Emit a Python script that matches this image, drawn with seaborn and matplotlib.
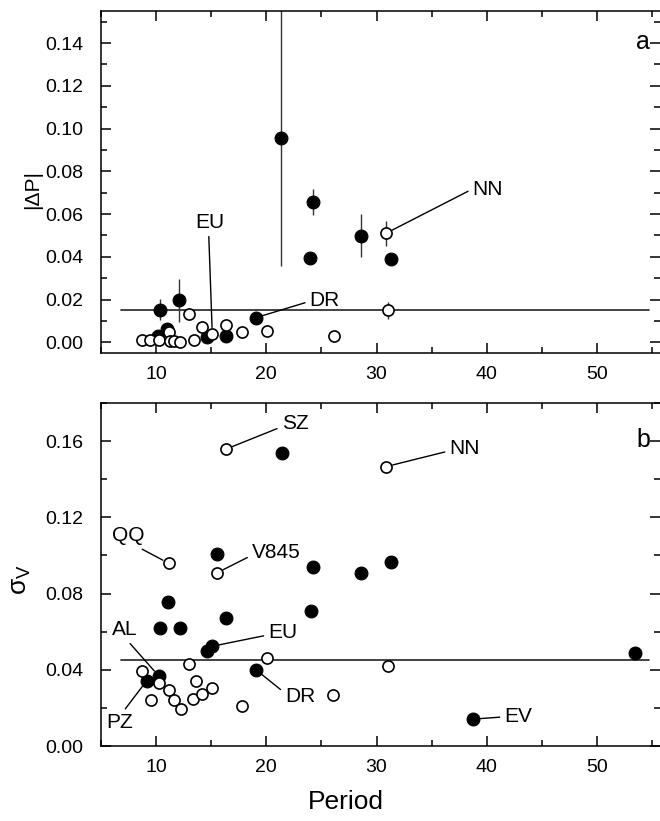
import numpy as np
import pandas as pd
import seaborn as sns
import matplotlib
matplotlib.use("Agg")
import matplotlib.pyplot as plt
from matplotlib.ticker import MultipleLocator

# ---------------- data ----------------
# panel a : |dP| vs period
a_fill_P = [10.2, 10.35, 10.96, 12.1, 14.6, 16.3, 19.04, 21.3, 23.97, 24.2, 28.6, 31.3]
a_fill_y = [0.003, 0.0153, 0.0064, 0.0196, 0.0025, 0.0028, 0.0115, 0.0958, 0.0395, 0.0656, 0.0498, 0.0392]
a_fill_e = [0, 0.005, 0, 0.010, 0, 0, 0, 0.060, 0.0025, 0.006, 0.010, 0]

a_open_P = [8.69, 9.45, 10.26, 11.2, 11.26, 11.6, 12.2, 12.98, 13.4, 14.2, 15.1, 16.3, 17.8, 20.04, 26.1, 30.86, 31.07]
a_open_y = [0.0009, 0.0013, 0.0013, 0.0048, 0.0005, 0.0005, 0.0001, 0.0134, 0.0013, 0.0071, 0.0037, 0.0079, 0.0048, 0.0051, 0.0028, 0.051, 0.0149]
a_open_e = [0, 0, 0, 0, 0, 0, 0, 0, 0, 0, 0, 0, 0, 0, 0, 0.0058, 0.004]

a_level = 0.015
# panel b : sigma_V vs period
b_fill_P = [9.14, 10.26, 10.35, 11.05, 12.17, 14.65, 15.05, 15.55, 16.3, 19.04, 21.4, 24.03, 24.2, 28.6, 31.3, 38.73, 53.46]
b_fill_y = [0.0342, 0.0366, 0.0619, 0.0758, 0.0619, 0.0498, 0.0523, 0.1007, 0.0673, 0.0401, 0.1536, 0.0708, 0.0941, 0.0908, 0.0967, 0.0141, 0.049]

b_open_P = [8.75, 9.51, 10.26, 11.17, 11.2, 11.65, 12.23, 12.99, 13.38, 13.62, 14.19, 15.1, 15.5, 16.3, 17.82, 20.04, 26.08, 30.86, 31.07]
b_open_y = [0.0394, 0.0241, 0.0331, 0.0958, 0.0293, 0.0241, 0.0192, 0.0432, 0.0249, 0.0342, 0.0272, 0.0302, 0.0908, 0.1557, 0.0211, 0.0462, 0.027, 0.1466, 0.042]

b_level = 0.045
line_span = [6.8, 54.7]

# labels: (name, set, index in set, text position, relpos of leader line)
a_labels = [("EU", "open", 10, (14.9, 0.0561), (0.45, 0.0)),
            ("DR", "fill", 6, (25.3, 0.0196), (0.0, 0.45)),
            ("NN", "open", 15, (40.1, 0.0713), (0.0, 0.55))]
b_labels = [("SZ", "open", 13, (22.6, 0.169), (0.0, 0.35)),
            ("NN", "open", 17, (38.0, 0.1559), (0.0, 0.4)),
            ("QQ", "open", 3, (7.48, 0.1103), (0.7, 0.0)),
            ("V845", "open", 12, (20.9, 0.1016), (0.0, 0.35)),
            ("EU", "fill", 6, (21.5, 0.0598), (0.0, 0.35)),
            ("AL", "fill", 1, (7.18, 0.061), (0.55, 0.0)),
            ("PZ", "fill", 0, (6.66, 0.0122), (0.6, 1.0)),
            ("DR", "fill", 9, (23.06, 0.0258), (0.0, 0.7)),
            ("EV", "fill", 15, (42.87, 0.0153), (0.0, 0.5))]

# ---------------- style ----------------
sns.set_theme(style="ticks")
plt.rcParams['font.family'] = ['Liberation Sans', 'DejaVu Sans']
plt.rcParams['axes.linewidth'] = 1.1
plt.rcParams['text.color'] = 'black'
plt.rcParams['axes.labelcolor'] = 'black'
plt.rcParams['xtick.color'] = 'black'
plt.rcParams['ytick.color'] = 'black'
plt.rcParams['axes.edgecolor'] = 'black'

W, H = 660, 821
fig = plt.figure(figsize=(W / 100, H / 100), dpi=100)
left = 101 / W
width = 1.0 - left
axA = fig.add_axes([left, (H - 353) / H, width, 342 / H])
axB = fig.add_axes([left, (H - 746) / H, width, 343 / H])

XMAX = 5 + 559 / 11.02


def draw(ax, fP, fy, oP, oy, fe=None, oe=None):
    if fe is not None:
        ax.errorbar(fP, fy, yerr=fe, fmt='none', ecolor='#333333', elinewidth=1.0, zorder=2)
    if oe is not None:
        ax.errorbar(oP, oy, yerr=oe, fmt='none', ecolor='#333333', elinewidth=1.0, zorder=2)
    dfF = pd.DataFrame({"P": fP, "v": fy})
    dfO = pd.DataFrame({"P": oP, "v": oy})
    sns.scatterplot(data=dfF, x="P", y="v", ax=ax, color='black', edgecolor='black',
                    s=85, linewidth=0.8, zorder=3, legend=False)
    sns.scatterplot(data=dfO, x="P", y="v", ax=ax, color='white', edgecolor='black',
                    s=64, linewidth=1.2, zorder=4, legend=False)


draw(axA, a_fill_P, a_fill_y, a_open_P, a_open_y, a_fill_e, a_open_e)
draw(axB, b_fill_P, b_fill_y, b_open_P, b_open_y)

for ax, lev in ((axA, a_level), (axB, b_level)):
    ax.plot(line_span, [lev, lev], color='#222222', lw=1.2, zorder=1)

sets = {"A": {"fill": (a_fill_P, a_fill_y), "open": (a_open_P, a_open_y)},
        "B": {"fill": (b_fill_P, b_fill_y), "open": (b_open_P, b_open_y)}}

for ax, key, labels in ((axA, "A", a_labels), (axB, "B", b_labels)):
    for name, st, idx, txy, rp in labels:
        P, v = sets[key][st]
        ax.annotate(name, xy=(P[idx], v[idx]), xytext=txy, textcoords='data',
                    ha='center', va='center', fontsize=15, zorder=6, color='black',
                    arrowprops=dict(arrowstyle='-', color='black', lw=1.0,
                                    shrinkA=1, shrinkB=5, relpos=rp))

for ax in (axA, axB):
    ax.set_xlim(5, XMAX)
    ax.xaxis.set_major_locator(MultipleLocator(10))
    ax.xaxis.set_minor_locator(MultipleLocator(5))
    ax.tick_params(which='both', direction='in', top=True, right=True, bottom=True, left=True,
                   width=1.1, color='black', labelcolor='black')
    ax.tick_params(which='major', length=7, labelsize=14, pad=13)
    ax.tick_params(which='minor', length=4)
    ax.tick_params(axis='x', which='major', pad=9)
    ax.spines['right'].set_visible(False)
    for s in ('left', 'top', 'bottom'):
        ax.spines[s].set_color('black')
    ax.set_facecolor('white')

axA.set_ylim(-0.005, 0.155)
axA.yaxis.set_major_locator(MultipleLocator(0.02))
axA.yaxis.set_minor_locator(MultipleLocator(0.01))
axA.yaxis.set_major_formatter(matplotlib.ticker.FormatStrFormatter('%.2f'))

axB.set_ylim(0, 0.18)
axB.yaxis.set_major_locator(MultipleLocator(0.04))
axB.yaxis.set_minor_locator(MultipleLocator(0.02))
axB.yaxis.set_major_formatter(matplotlib.ticker.FormatStrFormatter('%.2f'))

axA.set_xlabel('')
axA.set_ylabel('|ΔP|', fontsize=15, color='black')
axA.yaxis.set_label_coords(-0.105, 0.477)
axB.set_ylabel(r'$\mathregular{\sigma_V}$', fontsize=19, color='black')
axB.yaxis.set_label_coords(-0.122, 0.484)
axB.set_xlabel('Period', fontsize=19, color='black')
axB.xaxis.set_label_coords(0.438, -0.128)

axA.text(0.97, 0.909, 'a', transform=axA.transAxes, fontsize=18, ha='center', va='center', color='black')
axB.text(0.97, 0.892, 'b', transform=axB.transAxes, fontsize=18, ha='center', va='center', color='black')

fig.savefig('out.png', dpi=100, facecolor='white')
